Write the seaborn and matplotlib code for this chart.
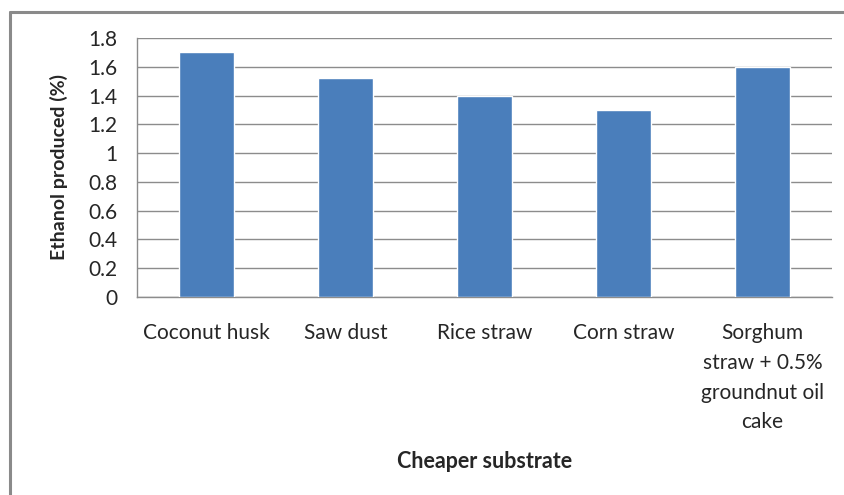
import matplotlib
matplotlib.use("Agg")
import matplotlib.pyplot as plt
from matplotlib.lines import Line2D
import seaborn as sns
import pandas as pd

# Ethanol yield obtained from each cheaper substrate
substrates = [
    "Coconut husk",
    "Saw dust",
    "Rice straw",
    "Corn straw",
    "Sorghum\nstraw + 0.5%\ngroundnut oil\ncake",
]
ethanol_pct = [1.70, 1.52, 1.40, 1.30, 1.60]
y_ticks = [0, 0.2, 0.4, 0.6, 0.8, 1, 1.2, 1.4, 1.6, 1.8]
y_tick_labels = ["0", "0.2", "0.4", "0.6", "0.8", "1", "1.2", "1.4", "1.6", "1.8"]

df = pd.DataFrame({"substrate": substrates, "ethanol": ethanol_pct})

sns.set_theme(style="white")
plt.rcParams["font.family"] = ["Lato", "DejaVu Sans"]

W, H = 844, 495
fig = plt.figure(figsize=(W / 100, H / 100), dpi=100)
fig.patch.set_facecolor("white")

left, right, top, bottom = 137, 832, 38, 297
ax = fig.add_axes([left / W, 1 - bottom / H, (right - left) / W, (bottom - top) / H])

grid_col = "#8c8c8c"
bar_col = "#4a7ebb"
text_col = "#262626"

sns.barplot(data=df, x="substrate", y="ethanol", color=bar_col, width=0.4,
            saturation=1, ax=ax, zorder=3)

ax.set_xlim(-0.5, len(substrates) - 0.5)
ax.set_ylim(0, 1.8)
ax.set_yticks(y_ticks)
ax.set_yticklabels(y_tick_labels, fontsize=15, color=text_col)
ax.yaxis.grid(True, color=grid_col, linewidth=1.0, zorder=0)
ax.set_axisbelow(True)

# category labels under the bars, boundary ticks between categories
ax.set_xticks(range(len(substrates)))
ax.set_xticklabels(substrates, fontsize=15, color=text_col, linespacing=1.6,
                   va="top", ha="center")
ax.tick_params(axis="x", which="major", length=0, pad=19)
ax.set_xticks([i - 0.5 for i in range(len(substrates) + 1)], minor=True)
ax.tick_params(axis="x", which="minor", length=5, width=1, color=grid_col,
               direction="out")
ax.tick_params(axis="y", which="major", length=5, width=1, color=grid_col,
               direction="out", pad=9)

for side in ["top", "right"]:
    ax.spines[side].set_visible(False)
for side in ["left", "bottom"]:
    ax.spines[side].set_color(grid_col)
    ax.spines[side].set_linewidth(1.0)

ax.set_xlabel("")
ax.set_ylabel("")

fig.text(59 / W, 1 - 167 / H, "Ethanol produced (%)", rotation=90,
         fontsize=14, fontweight="bold", color=text_col, ha="center", va="center")
fig.text(485 / W, 1 - 462 / H, "Cheaper substrate", fontsize=15.5,
         fontweight="bold", color=text_col, ha="center", va="center")

# chart-area border (left and top edges)
frame_col = "#8a8a8a"
fig.add_artist(Line2D([10 / W, 10 / W], [0, 1 - 12 / H], color=frame_col,
                      linewidth=2.2, transform=fig.transFigure))
fig.add_artist(Line2D([10 / W, 1], [1 - 12 / H, 1 - 12 / H], color=frame_col,
                      linewidth=2.2, transform=fig.transFigure))

fig.savefig("out.png", dpi=100, facecolor="white")
